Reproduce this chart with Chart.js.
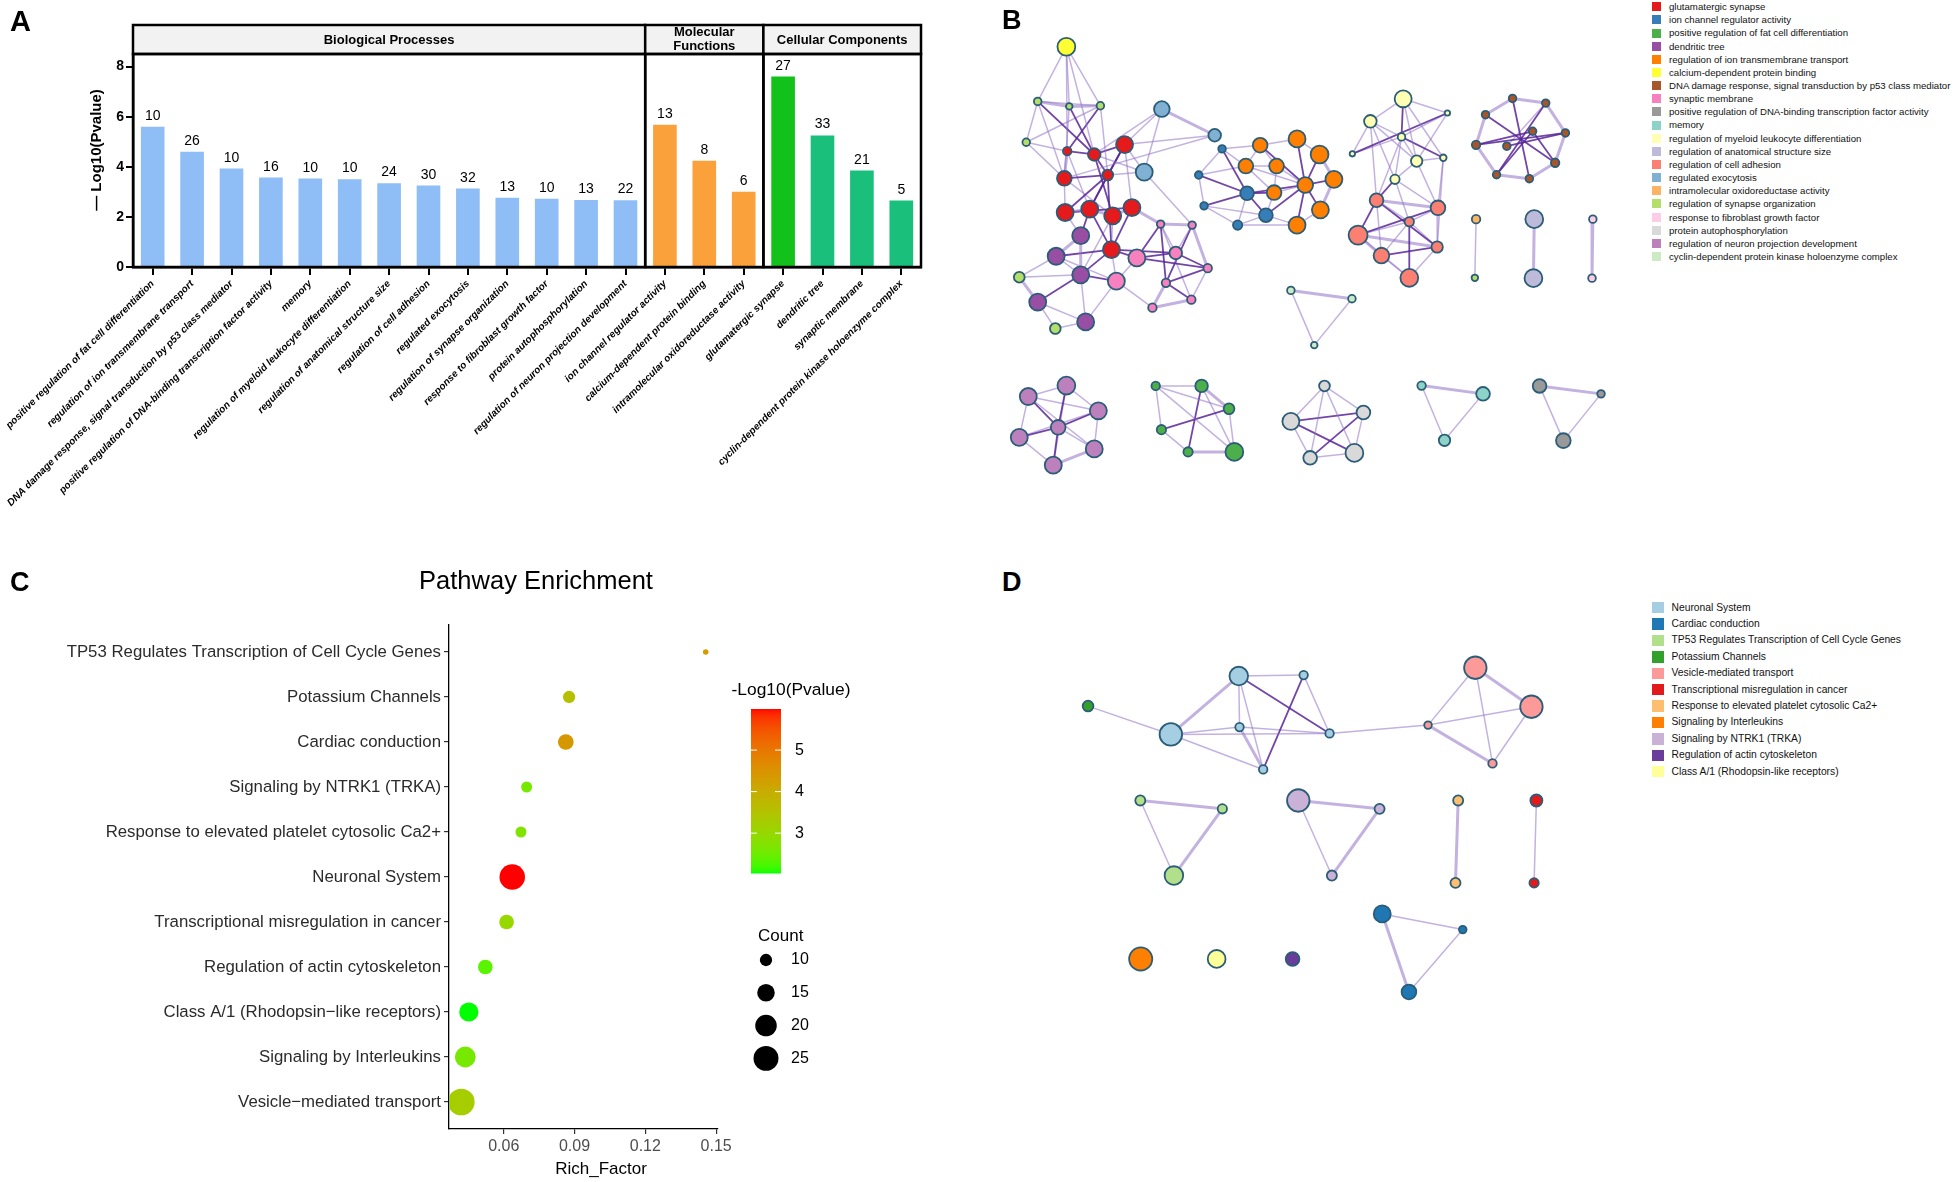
<!DOCTYPE html>
<html>
<head>
<meta charset="utf-8">
<script src="https://cdn.jsdelivr.net/npm/chart.js"></script>
<style>
  body { margin:0; background:#fff; width:1955px; height:1182px; position:relative; overflow:hidden; font-family: Arial, "Liberation Sans", sans-serif; }
  canvas { position:absolute; }
  .tag { position:absolute; font-weight:bold; line-height:1; color:#000; }
  .lg { position:absolute; white-space:nowrap; color:#111; }
  .sq { position:absolute; }
</style>
</head>
<body>
<canvas id="cA" width="960" height="545" style="left:0;top:0;"></canvas>
<canvas id="cB" width="665" height="510" style="left:967px;top:-11px;"></canvas>
<canvas id="cC" width="960" height="637" style="left:0;top:545px;"></canvas>
<canvas id="cD" width="625" height="447" style="left:1027px;top:586px;"></canvas>
<div id="legB"></div>
<div id="legD"></div>
<div class="tag" style="left:10px;top:7px;font-size:29px;">A</div>
<div class="tag" style="left:1002px;top:7px;font-size:27px;">B</div>
<div class="tag" style="left:10px;top:569px;font-size:27px;">C</div>
<div class="tag" style="left:1002px;top:569px;font-size:27px;">D</div>

<script>
// ---------- A: GO enrichment bars ----------
var goTerms = ['positive regulation of fat cell differentiation', 'regulation of ion transmembrane transport',
  'DNA damage response, signal transduction by p53 class mediator', 'positive regulation of DNA-binding transcription factor activity',
  'memory', 'regulation of myeloid leukocyte differentiation', 'regulation of anatomical structure size',
  'regulation of cell adhesion', 'regulated exocytosis', 'regulation of synapse organization',
  'response to fibroblast growth factor', 'protein autophosphorylation', 'regulation of neuron projection development',
  'ion channel regulator activity', 'calcium-dependent protein binding', 'intramolecular oxidoreductase activity',
  'glutamatergic synapse', 'dendritic tree', 'synaptic membrane', 'cyclin-dependent protein kinase holoenzyme complex'];
var goGroups = ['Biological Processes', 'Molecular Functions', 'Cellular Components'];
var goGroupSizes = [13, 3, 4];
var goLogP = [5.6, 4.6, 3.93, 3.57, 3.53, 3.5, 3.34, 3.25, 3.13, 2.76, 2.72, 2.67, 2.66,
  5.68, 4.24, 3.0,
  7.6, 5.25, 3.85, 2.65];
var goCounts = [10, 26, 10, 16, 10, 10, 24, 30, 32, 13, 10, 13, 22,
  13, 8, 6,
  27, 33, 21, 5];

// ---------- B: GO term network ----------
var bTerms = ['glutamatergic synapse', 'ion channel regulator activity', 'positive regulation of fat cell differentiation',
  'dendritic tree', 'regulation of ion transmembrane transport', 'calcium-dependent protein binding',
  'DNA damage response, signal transduction by p53 class mediator', 'synaptic membrane',
  'positive regulation of DNA-binding transcription factor activity', 'memory',
  'regulation of myeloid leukocyte differentiation', 'regulation of anatomical structure size',
  'regulation of cell adhesion', 'regulated exocytosis', 'intramolecular oxidoreductase activity',
  'regulation of synapse organization', 'response to fibroblast growth factor', 'protein autophosphorylation',
  'regulation of neuron projection development', 'cyclin-dependent protein kinase holoenzyme complex'];
var bColors = ['#e41a1c', '#377eb8', '#4daf4a', '#984ea3', '#ff7f00', '#ffff33', '#a65628', '#f781bf', '#999999',
  '#8dd3c7', '#ffffb3', '#bebada', '#fb8072', '#80b1d3', '#fdb462', '#b3de69', '#fccde5', '#d9d9d9', '#bc80bd', '#ccebc5'];
// [id, layout x, layout y, term, genes]
var bNodes = [
  ['y0',215,140,5,22],
  ['g1',145,305,15,4],['g2',222,320,15,3],['g3',298,318,15,4],['g4',117,428,15,4],
  ['e1',448,328,13,17],['e2',577,407,13,11],['e3',405,518,13,20],
  ['r1',217,455,0,5],['r2',283,465,0,11],['r3',357,435,0,20],['r4',210,537,0,15],['r5',316,527,0,8],
  ['r6',212,640,0,20],['r7',272,630,0,20],['r8',328,650,0,20],['r9',375,625,0,20],['r10',325,752,0,20],
  ['d1',250,710,3,20],['d2',190,772,3,20],['d3',250,828,3,20],['d4',145,910,3,20],['d5',262,970,3,20],
  ['s1',100,835,15,8],['s2',188,990,15,8],
  ['p1',387,777,7,20],['p2',337,847,7,20],['p3',482,762,7,11],['p4',445,675,7,4],['p5',522,678,7,4],
  ['p6',458,852,7,5],['p7',560,808,7,5],['p8',425,927,7,5],['p9',520,903,7,5],
  ['b1',595,448,1,4],['b2',538,527,1,4],['b3',551,620,1,4],['b4',656,582,1,13],['b5',702,648,1,13],['b6',633,678,1,6],
  ['o1',688,437,4,15],['o2',778,418,4,20],['o3',653,500,4,15],['o4',728,500,4,15],['o5',833,465,4,22],
  ['o6',722,580,4,15],['o7',798,557,4,17],['o8',868,540,4,20],['o9',835,632,4,20],['o10',778,678,4,20],
  ['l1',1037,297,10,20],['l2',957,365,10,11],['l3',1070,485,10,9],['l4',1017,540,10,6],
  ['w1',1145,340,10,2],['w2',913,463,10,2],['w3',1033,412,10,4],['w4',1135,475,10,3],
  ['c1',972,603,12,13],['c2',1122,626,12,15],['c3',1052,668,12,6],['c4',927,708,12,25],['c5',984,770,12,17],
  ['c6',1120,744,12,9],['c7',1052,837,12,22],
  ['n1',1304,296,6,4],['n2',1385,310,6,4],['n3',1238,345,6,4],['n4',1215,436,6,5],['n5',1290,440,6,4],
  ['n6',1353,395,6,4],['n7',1433,400,6,4],['n8',1408,490,6,5],['n9',1265,526,6,4],['n10',1345,538,6,4],
  ['q1',1215,660,14,5],['q2',1212,837,15,3],['a1',1357,660,11,22],['a2',1355,838,11,22],
  ['f1',1500,660,16,4],['f2',1498,838,16,4],
  ['t1',763,875,19,4],['t2',912,900,19,4],['t3',820,1040,19,3],
  ['v1',215,1162,18,22],['v2',122,1195,18,20],['v3',293,1238,18,20],['v4',195,1288,18,15],
  ['v5',100,1318,18,20],['v6',283,1353,18,20],['v7',183,1402,18,20],
  ['h1',433,1163,2,5],['h2',545,1163,2,11],['h3',612,1232,2,8],['h4',447,1295,2,6],['h5',512,1362,2,6],['h6',625,1362,2,22],
  ['k1',845,1163,17,8],['k2',763,1270,17,20],['k3',940,1243,17,13],['k4',810,1380,17,13],['k5',918,1365,17,22],
  ['m1',1082,1162,9,5],['m2',1232,1187,9,13],['m3',1138,1327,9,9],
  ['z1',1370,1163,8,13],['z2',1520,1187,8,4],['z3',1428,1328,8,15]
];
// "a-b:s" with s = similarity class (1 weak, 2 medium, 3 strong)
var bLinks = 'y0-g1 y0-g2 y0-g3 y0-r1 y0-r2 ' +
  'g1-g2:2 g2-g3:2 g1-g3 g1-g4 g4-r1 g4-r4 g1-r2:3 g2-r2:3 g3-r1:3 g3-r5 g2-r4 g4-g3 g1-r4 ' +
  'e1-e2:2 e1-e3 e1-r3 e2-r4 e3-r3 e3-r5 e3-r2 e3-p5 e1-r2 e2-r3 ' +
  'r1-r2:3 r1-r4:2 r2-r3:3 r2-r5:3 r3-r5:3 r4-r5:3 r4-r6 r5-r6:3 r5-r7:3 r2-r8:3 r3-r9 r6-r7:2 r7-r8:2 r8-r9:2 ' +
  'r6-r9:3 r7-r10:3 r8-r10 r9-r10:3 r1-r7 r4-r8 r5-r10:3 r3-r7:3 ' +
  'd1-r7:3 d1-d2:2 d2-d3 d1-d3:2 d2-r10:3 d3-r10:3 d3-d4:3 d4-d5 d3-d5 d2-s1 d4-s1:2 d4-s2 d5-s2 s1-d3 d1-r6 ' +
  'd2-p2 d3-p2:3 d3-r8 ' +
  'p1-p2 p1-r10:3 p1-p4:3 p1-p3:3 p2-r10 p3-p4 p3-p5 p3-p7:3 p4-p5:2 p4-p6:3 p5-p7:2 p6-p7:3 p6-p8:2 p6-p9:3 ' +
  'p8-p9:2 p7-p9 p1-p7:3 p4-p9 p5-p6:3 p2-p8 p2-d5 r9-p4:2 r10-p3:3 ' +
  'b1-b4:3 b2-b4:3 b3-b4:3 b2-b3 b1-b2 b4-b5:3 b4-b6 b5-b6 b3-b6 b4-o6:3 b5-o6 b1-o3 o1-o3 o1-o4 o3-o4 o3-o6 ' +
  'o4-o6 o7-o2:3 o7-o5:3 o7-o8:3 o7-o9:3 o7-o10:3 o7-o6 o7-o4 o7-o1:3 o7-b5:3 o7-b4:3 o7-o3 o5-o8:2 o8-o9:2 ' +
  'o9-o10 o10-b5 o2-o5 o1-o2 b2-o3 b1-o1 b6-o10 b3-b5 ' +
  'l1-l2 l1-w3:3 l1-w1 l1-l3 l1-w4 l2-w3 l2-w2 l2-l3 l2-l4 w3-l3 w3-w4:3 w3-l4 w1-w2:3 w1-w3 w1-l3 w2-w3 ' +
  'l3-l4 l3-w4 l4-c1:3 l4-c2 l4-c3 l3-c2 w4-c2 w3-c1 c1-c3 c1-c4:3 c1-c5 c1-c2:2 c1-c6:3 c2-c3 c2-c4:3 c2-c6 ' +
  'c3-c4 c3-c5 c3-c6 c3-c7:3 c4-c5:2 c4-c6:2 c4-c7 c5-c7 c5-c6:3 c6-c7 w4-c6 l2-c1 ' +
  'n1-n10:3 n3-n8:3 n4-n7:3 n2-n9:3 n5-n7:3 n6-n4:3 n6-n9:3 n5-n2 n1-n2:2 n2-n7:2 n7-n8:2 n8-n10:2 n10-n9:2 ' +
  'n9-n4:2 n4-n3:2 n3-n1:2 n6-n8:3 ' +
  'q1-q2 a1-a2:2 f1-f2:2 t1-t2:2 t2-t3 t1-t3 ' +
  'v4-v1:3 v4-v2:3 v4-v3:3 v4-v5:3 v4-v6 v4-v7:3 v1-v2 v1-v3 v2-v5 v3-v6 v5-v7 v6-v7:2 v2-v3 v5-v3 v1-v7 v2-v6 ' +
  'h1-h2 h2-h3:2 h1-h4 h4-h5 h5-h6:2 h3-h6 h1-h6 h1-h3 h4-h3:3 h2-h5:3 h2-h6 ' +
  'k1-k2 k1-k3 k2-k4 k4-k5 k3-k5 k1-k4 k1-k5 k2-k3:3 k2-k5:3 k3-k4:3 ' +
  'm1-m2:2 m2-m3 m1-m3 z1-z2:2 z2-z3 z1-z3';

// ---------- C: pathway enrichment dots ----------
var pathNames = ['TP53 Regulates Transcription of Cell Cycle Genes', 'Potassium Channels', 'Cardiac conduction',
  'Signaling by NTRK1 (TRKA)', 'Response to elevated platelet cytosolic Ca2+', 'Neuronal System',
  'Transcriptional misregulation in cancer', 'Regulation of actin cytoskeleton',
  'Class A/1 (Rhodopsin\u2212like receptors)', 'Signaling by Interleukins', 'Vesicle\u2212mediated transport'];
var pathRich = [0.1456, 0.0877, 0.0863, 0.0697, 0.0673, 0.0636, 0.0612, 0.0522, 0.0452, 0.0437, 0.0420];
var pathCount = [6, 10, 13, 9, 9, 26, 12, 12, 17, 19, 28];
var pathLogP = [4.3, 3.55, 4.4, 2.6, 2.7, 5.99, 3.0, 2.35, 2.04, 2.6, 3.25];
var countBreaks = [10, 15, 20, 25];
var richTicks = [0.06, 0.09, 0.12, 0.15];
var logPTicks = [3, 4, 5];

// ---------- D: pathway network ----------
var dTerms = ['Neuronal System', 'Cardiac conduction', 'TP53 Regulates Transcription of Cell Cycle Genes',
  'Potassium Channels', 'Vesicle-mediated transport', 'Transcriptional misregulation in cancer',
  'Response to elevated platelet cytosolic Ca2+', 'Signaling by Interleukins', 'Signaling by NTRK1 (TRKA)',
  'Regulation of actin cytoskeleton', 'Class A/1 (Rhodopsin-like receptors)'];
var dColors = ['#a6cee3', '#1f78b4', '#b2df8a', '#33a02c', '#fb9a99', '#e31a1c', '#fdbf6f', '#ff7f00', '#cab2d6', '#6a3d9a', '#ffff99'];
var dNodes = [
  ['N1',520,230,0,24],['N2',342,405,0,35],['N3',690,227,0,5],['N4',522,383,0,5],['N5',758,402,0,5],['N6',584,510,0,5],
  ['P1',125,320,3,8],
  ['V1',1140,205,4,35],['V2',1287,322,4,35],['V3',1016,377,4,4],['V4',1185,492,4,5],
  ['T1',262,603,2,7],['T2',477,628,2,6],['T3',350,828,2,24],
  ['K1',676,603,8,35],['K2',889,628,8,7],['K3',764,828,8,7],
  ['L1',1095,603,6,7],['L2',1088,850,6,7],
  ['R1',1300,603,5,10],['R2',1294,850,5,6],
  ['C1',896,943,1,20],['C2',1107,990,1,4],['C3',966,1177,1,15],
  ['I1',263,1078,7,37],['A1',462,1078,10,22],['Ac1',661,1078,9,13]
];
var dLinks = 'P1-N2 N2-N1:2 N2-N4 N2-N6 N2-N5 N1-N4 N1-N3 N1-N5:3 N1-N6 N3-N6:3 N3-N5 N4-N6:2 N4-N5 N5-V3 ' +
  'V3-V1 V3-V2 V3-V4:2 V1-V2:2 V1-V4 V2-V4 T1-T2:2 T1-T3 T2-T3:2 K1-K2:2 K1-K3 K2-K3:2 L1-L2:2 R1-R2 ' +
  'C1-C2 C1-C3:2 C2-C3';

// ===================================================================
var FONT = 'Arial, "Liberation Sans", sans-serif';

// panel A
var goColors = [];
goGroupSizes.forEach(function (n, k) {
  for (var i = 0; i < n; i++) {
    if (k === 0) goColors.push('#8fbdf6');
    else if (k === 1) goColors.push('#fba13b');
    else goColors.push(i === 0 ? '#12c21a' : '#1abf7b');
  }
});

var facetPlugin = {
  id: 'facets',
  afterDraw: function (chart) {
    var ctx = chart.ctx, a = chart.chartArea, x = chart.scales.x, y = chart.scales.y;
    ctx.save();
    ctx.fillStyle = '#000';
    ctx.font = '14px ' + FONT;
    ctx.textAlign = 'center';
    ctx.textBaseline = 'alphabetic';
    goLogP.forEach(function (v, i) {
      ctx.fillText(String(goCounts[i]), x.getPixelForValue(i), y.getPixelForValue(v) - 7);
    });
    var stripTop = 25, start = 0;
    ctx.lineWidth = 2.5;
    ctx.strokeStyle = '#000';
    goGroups.forEach(function (g, k) {
      var l = x.getPixelForValue(start - 0.5), r = x.getPixelForValue(start + goGroupSizes[k] - 0.5);
      ctx.fillStyle = '#f2f2f2';
      ctx.fillRect(l, stripTop, r - l, a.top - stripTop);
      ctx.strokeRect(l, stripTop, r - l, a.top - stripTop);
      ctx.strokeRect(l, a.top, r - l, a.bottom - a.top);
      ctx.fillStyle = '#000';
      ctx.font = 'bold 13px ' + FONT;
      ctx.textBaseline = 'middle';
      var mid = (l + r) / 2, cy = (stripTop + a.top) / 2;
      if (ctx.measureText(g).width > r - l - 8) {
        var parts = g.split(' ');
        ctx.fillText(parts[0], mid, cy - 7);
        ctx.fillText(parts.slice(1).join(' '), mid, cy + 7);
      } else {
        ctx.fillText(g, mid, cy + 1);
      }
      start += goGroupSizes[k];
    });
    ctx.translate(97, 150);
    ctx.rotate(-Math.PI / 2);
    ctx.font = 'bold 15px ' + FONT;
    ctx.fillText('\u2014 Log10(Pvalue)', 0, 0);
    ctx.restore();
  }
};

new Chart(document.getElementById('cA'), {
  type: 'bar',
  data: { labels: goTerms, datasets: [{ data: goLogP, backgroundColor: goColors, barPercentage: 0.6, categoryPercentage: 1 }] },
  options: {
    responsive: false, animation: false, events: [],
    layout: { padding: { top: 54, right: 39, left: 0, bottom: 0 } },
    plugins: { legend: { display: false }, tooltip: { enabled: false } },
    scales: {
      x: {
        grid: { offset: false, drawOnChartArea: false, tickLength: 8, lineWidth: 2, color: '#000' },
        border: { display: true, width: 2.5, color: '#000' },
        ticks: { autoSkip: false, maxRotation: 45, minRotation: 45, padding: 3, color: '#000',
          font: { family: FONT, size: 10, weight: 'bold', style: 'italic' } },
        afterFit: function (s) { s.height = 545 - 267; s.paddingLeft = 0; s.paddingRight = 0; }
      },
      y: {
        min: 0, max: 8.5,
        afterBuildTicks: function (s) { s.ticks = [0, 2, 4, 6, 8].map(function (v) { return { value: v }; }); },
        ticks: { color: '#000', padding: 2, font: { family: FONT, size: 14, weight: 'bold' } },
        grid: { drawOnChartArea: false, tickLength: 7, lineWidth: 2, color: '#000' },
        border: { display: true, width: 2.5, color: '#000' },
        afterFit: function (s) { s.width = 133; s.paddingTop = 0; s.paddingBottom = 0; }
      }
    }
  },
  plugins: [facetPlugin]
});

// networks (B, D)
function nodeRadius(genes) { return 1.9 * Math.sqrt(genes); }
function drawNetwork(canvasId, nodes, links, colors, xMax, yMax) {
  var pos = {};
  nodes.forEach(function (n) { pos[n[0]] = n; });
  var datasets = [];
  colors.forEach(function (c, g) {
    var members = nodes.filter(function (n) { return n[3] === g; });
    if (!members.length) return;
    datasets.push({
      data: members.map(function (n) { return { x: n[1], y: n[2] }; }),
      pointRadius: members.map(function (n) { return nodeRadius(n[4]); }),
      pointBackgroundColor: c, pointBorderColor: '#2b5d78', pointBorderWidth: 1.8,
      showLine: false, clip: false
    });
  });
  links.trim().split(/\s+/).forEach(function (s) {
    var w = 1, pair = s;
    if (s.indexOf(':') > 0) { w = +s.split(':')[1]; pair = s.split(':')[0]; }
    var ab = pair.split('-'), p = pos[ab[0]], q = pos[ab[1]];
    datasets.push({
      data: [{ x: p[1], y: p[2] }, { x: q[1], y: q[2] }],
      showLine: true, pointRadius: 0, clip: false,
      borderColor: w === 3 ? 'rgba(88,38,152,0.85)' : 'rgba(145,115,198,0.55)',
      borderWidth: w === 2 ? 3 : (w === 3 ? 1.8 : 1.5),
      borderCapStyle: 'round'
    });
  });
  new Chart(document.getElementById(canvasId), {
    type: 'scatter',
    data: { datasets: datasets },
    options: {
      responsive: false, animation: false, events: [],
      layout: { padding: 0 },
      plugins: { legend: { display: false }, tooltip: { enabled: false } },
      scales: {
        x: { type: 'linear', min: 0, max: xMax, display: false },
        y: { type: 'linear', min: 0, max: yMax, reverse: true, display: false }
      }
    }
  });
}
drawNetwork('cB', bNodes, bLinks, bColors, 1568, 1470);
drawNetwork('cD', dNodes, dLinks, dColors, 1568, 1260);

function htmlLegend(id, terms, colors, left, firstY, step, box, size) {
  var el = document.getElementById(id);
  terms.forEach(function (t, i) {
    var cy = firstY + i * step;
    var sq = document.createElement('div');
    sq.className = 'sq';
    sq.style.cssText = 'left:' + left + 'px;top:' + (cy - box / 2) + 'px;width:' + box + 'px;height:' + box + 'px;background:' + colors[i] + ';';
    el.appendChild(sq);
    var tx = document.createElement('div');
    tx.className = 'lg';
    tx.textContent = t;
    tx.style.cssText = 'left:' + (left + box + 8) + 'px;top:' + (cy - step / 2) + 'px;line-height:' + step + 'px;font-size:' + size + 'px;';
    el.appendChild(tx);
  });
}
htmlLegend('legB', bTerms, bColors, 1652, 6.7, 13.15, 9, 9.65);
htmlLegend('legD', dTerms, dColors, 1652, 607.7, 16.4, 11.5, 10.3);

// panel C: colour scale green -> red interpolated in Lab
function toLin(c) { c /= 255; return c <= 0.04045 ? c / 12.92 : Math.pow((c + 0.055) / 1.055, 2.4); }
function toSrgb(c) { c = c <= 0.0031308 ? 12.92 * c : 1.055 * Math.pow(c, 1 / 2.4) - 0.055; return Math.round(Math.max(0, Math.min(1, c)) * 255); }
function rgbToLab(rgb) {
  var r = toLin(rgb[0]), g = toLin(rgb[1]), b = toLin(rgb[2]);
  var X = (r * 0.4124 + g * 0.3576 + b * 0.1805) / 0.95047;
  var Y = (r * 0.2126 + g * 0.7152 + b * 0.0722);
  var Z = (r * 0.0193 + g * 0.1192 + b * 0.9505) / 1.08883;
  var f = function (t) { return t > 0.008856 ? Math.cbrt(t) : 7.787 * t + 16 / 116; };
  var fx = f(X), fy = f(Y), fz = f(Z);
  return [116 * fy - 16, 500 * (fx - fy), 200 * (fy - fz)];
}
function labToRgb(lab) {
  var fy = (lab[0] + 16) / 116, fx = fy + lab[1] / 500, fz = fy - lab[2] / 200;
  var inv = function (t) { return t > 0.206893 ? t * t * t : (t - 16 / 116) / 7.787; };
  var X = inv(fx) * 0.95047, Y = inv(fy), Z = inv(fz) * 1.08883;
  var r = X * 3.2406 + Y * -1.5372 + Z * -0.4986;
  var g = X * -0.9689 + Y * 1.8758 + Z * 0.0415;
  var b = X * 0.0557 + Y * -0.2040 + Z * 1.0570;
  return 'rgb(' + toSrgb(r) + ',' + toSrgb(g) + ',' + toSrgb(b) + ')';
}
var labLow = rgbToLab([0, 255, 0]), labHigh = rgbToLab([255, 0, 0]);
var pMin = Math.min.apply(null, pathLogP), pMax = Math.max.apply(null, pathLogP);
function pColor(v) {
  var t = Math.max(0, Math.min(1, (v - pMin) / (pMax - pMin)));
  return labToRgb([0, 1, 2].map(function (k) { return labLow[k] + (labHigh[k] - labLow[k]) * t; }));
}
function countRadius(n) { return Math.max(2.8, Math.sqrt(Math.max(0, 7.8 * n - 40))); }

var pathLegendPlugin = {
  id: 'pathLegend',
  afterDraw: function (chart) {
    var ctx = chart.ctx;
    ctx.save();
    ctx.fillStyle = '#000';
    ctx.textAlign = 'center';
    ctx.textBaseline = 'middle';
    ctx.font = '25.5px ' + FONT;
    ctx.fillText('Pathway Enrichment', 536, 37);
    ctx.font = '17px ' + FONT;
    ctx.fillText('Rich_Factor', 601, 624);
    ctx.font = '17.4px ' + FONT;
    ctx.fillText('-Log10(Pvalue)', 791, 145);
    // colour bar
    var bx = 751, bw = 30, bt = 164, bb = 328;
    for (var yy = bt; yy < bb; yy++) {
      ctx.fillStyle = pColor(pMax - (yy - bt + 0.5) / (bb - bt) * (pMax - pMin));
      ctx.fillRect(bx, yy, bw, 1.5);
    }
    ctx.strokeStyle = '#fff';
    ctx.lineWidth = 1;
    ctx.textAlign = 'left';
    ctx.font = '16px ' + FONT;
    logPTicks.forEach(function (v) {
      var ty = bt + (pMax - v) / (pMax - pMin) * (bb - bt);
      ctx.beginPath();
      ctx.moveTo(bx, ty); ctx.lineTo(bx + 6, ty);
      ctx.moveTo(bx + bw - 6, ty); ctx.lineTo(bx + bw, ty);
      ctx.stroke();
      ctx.fillStyle = '#000';
      ctx.fillText(String(v), 795, ty);
    });
    // size legend
    ctx.font = '17px ' + FONT;
    ctx.fillText('Count', 758, 391);
    ctx.font = '16px ' + FONT;
    countBreaks.forEach(function (n, i) {
      var cy = 415 + i * 32.8;
      ctx.beginPath();
      ctx.arc(766, cy, countRadius(n), 0, Math.PI * 2);
      ctx.fillStyle = '#000';
      ctx.fill();
      ctx.fillText(String(n), 791, cy);
    });
    ctx.restore();
  }
};

new Chart(document.getElementById('cC'), {
  type: 'bubble',
  data: {
    datasets: [{
      data: pathRich.map(function (x, i) { return { x: x, y: i, r: countRadius(pathCount[i]) }; }),
      backgroundColor: pathLogP.map(pColor), borderWidth: 0
    }]
  },
  options: {
    responsive: false, animation: false, events: [],
    layout: { padding: { top: 80, right: 242, left: 0, bottom: 0 } },
    plugins: { legend: { display: false }, tooltip: { enabled: false } },
    scales: {
      x: {
        type: 'linear', min: 0.0368, max: 0.1508,
        afterBuildTicks: function (s) { s.ticks = richTicks.map(function (v) { return { value: v }; }); },
        ticks: { color: '#4d4d4d', padding: 3, font: { family: FONT, size: 16 }, callback: function (v) { return v.toFixed(2); } },
        grid: { drawOnChartArea: false, tickLength: 5, lineWidth: 1.2, color: '#333' },
        border: { display: true, width: 1.3, color: '#000' },
        afterFit: function (s) { s.height = 637 - 584; s.paddingLeft = 0; s.paddingRight = 0; }
      },
      y: {
        type: 'linear', min: -0.6, max: pathNames.length - 0.4, reverse: true,
        afterBuildTicks: function (s) { s.ticks = pathNames.map(function (_, i) { return { value: i }; }); },
        ticks: { color: '#2b2b2b', padding: 3, font: { family: FONT, size: 16.8 }, callback: function (v) { return pathNames[v]; } },
        grid: { drawOnChartArea: false, tickLength: 5, lineWidth: 1.2, color: '#333' },
        border: { display: true, width: 1.3, color: '#000' },
        afterFit: function (s) { s.width = 449; s.paddingTop = 0; s.paddingBottom = 0; }
      }
    }
  },
  plugins: [pathLegendPlugin]
});
</script>
</body>
</html>
